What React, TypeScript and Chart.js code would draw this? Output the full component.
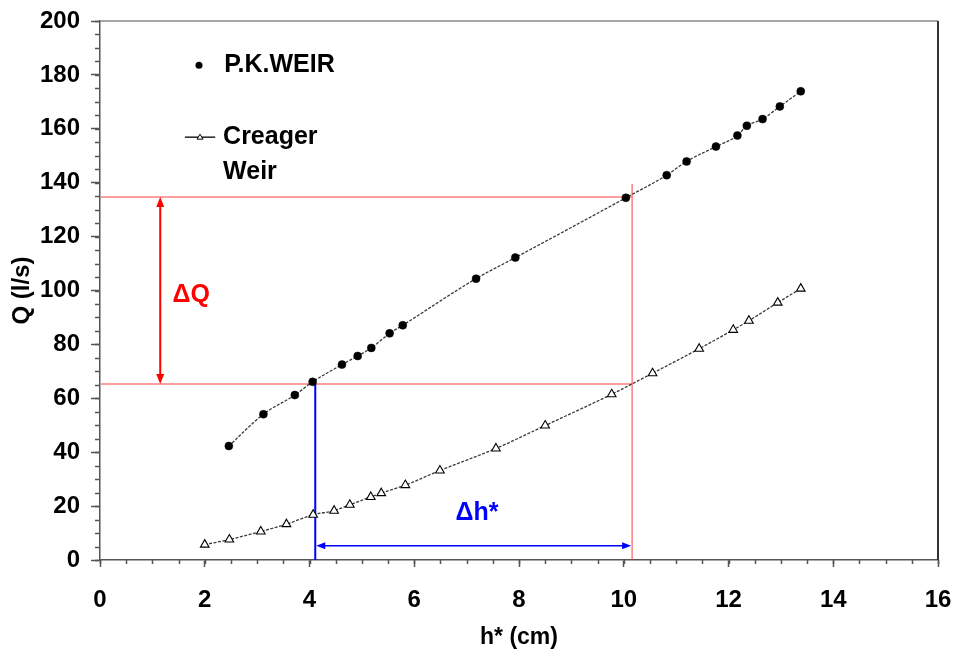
import React, { useEffect, useRef } from 'react';
import { Chart, registerables } from 'chart.js';

Chart.register(...registerables);

// P.K. Weir series (h* in cm, Q in l/s)
const pkH = [2.46, 3.12, 3.72, 4.06, 4.62, 4.92, 5.18, 5.53, 5.78, 7.18, 7.93, 10.04, 10.82, 11.2, 11.76, 12.17, 12.35, 12.65, 12.98, 13.38];
const pkQ = [42.3, 54.1, 61.2, 66.1, 72.5, 75.7, 78.7, 84.1, 87.1, 104.4, 112.2, 134.4, 142.8, 147.9, 153.4, 157.5, 161.1, 163.6, 168.3, 173.9];

// Creager Weir series
const crH = [2.0, 2.47, 3.07, 3.56, 4.07, 4.47, 4.77, 5.17, 5.37, 5.83, 6.49, 7.56, 8.5, 9.77, 10.55, 11.44, 12.09, 12.39, 12.94, 13.38];
const crQ = [5.7, 7.6, 10.6, 13.3, 16.8, 18.3, 20.5, 23.4, 24.8, 27.8, 33.2, 41.4, 49.9, 61.5, 69.3, 78.4, 85.4, 88.8, 95.5, 100.7];

// Axis ranges / ticks
const X_RANGE = [0, 16];
const X_STEP = 2;
const X_MINOR = 0.5;
const Y_RANGE = [0, 200];
const Y_STEP = 20;
const Y_MINOR = 5;

// Annotation values (data units)
const Q_LOW = 65.3;
const Q_HIGH = 134.7;
const H_LOW = 4.11;
const H_HIGH = 10.16;
const RED_VERT_TOP = 139.5;
const DQ_ARROW_X = 1.15;
const DH_ARROW_Y = 5.3;
const DQ_LABEL = { x: 1.74, y: 98.3, text: 'ΔQ' };
const DH_LABEL = { x: 7.2, y: 17.5, text: 'Δh*' };

// Legend anchors (data units)
const LEGEND_PK = { markX: 1.89, textX: 2.37, y: 183.6, text: 'P.K.WEIR' };
const LEGEND_CR = { lineX0: 1.62, lineX1: 2.2, textX: 2.35, y: 156.9, y2: 143.9, text1: 'Creager', text2: 'Weir' };

const FONT = '"Liberation Sans", Arial, Helvetica, sans-serif';

function arrowHead(ctx: CanvasRenderingContext2D, x: number, y: number, dx: number, dy: number, len: number, half: number) {
  const bx = x - dx * len;
  const by = y - dy * len;
  ctx.beginPath();
  ctx.moveTo(x, y);
  ctx.lineTo(bx - dy * half, by + dx * half);
  ctx.lineTo(bx + dy * half, by - dx * half);
  ctx.closePath();
  ctx.fill();
}

export default function App() {
  const ref = useRef<HTMLCanvasElement>(null);

  useEffect(() => {
    document.body.style.margin = '0';
    const canvas = ref.current;
    if (!canvas) return;

    const overlay = {
      id: 'overlay',
      beforeDatasetsDraw(chart: any) {
        const { ctx, chartArea } = chart;
        const xs = chart.scales.x;
        const ys = chart.scales.y;
        const px = (v: number) => xs.getPixelForValue(v);
        const py = (v: number) => ys.getPixelForValue(v);
        ctx.save();
        // box top and right
        ctx.lineWidth = 1.5;
        ctx.strokeStyle = '#8a8a8a';
        ctx.beginPath();
        ctx.moveTo(chartArea.left, chartArea.top);
        ctx.lineTo(chartArea.right, chartArea.top);
        ctx.stroke();
        ctx.strokeStyle = '#333';
        ctx.lineWidth = 2;
        ctx.beginPath();
        ctx.moveTo(chartArea.right, chartArea.top);
        ctx.lineTo(chartArea.right, chartArea.bottom);
        ctx.stroke();

        // thin red guide lines
        ctx.strokeStyle = 'rgba(255,40,40,0.6)';
        ctx.lineWidth = 1.5;
        ctx.beginPath();
        ctx.moveTo(px(X_RANGE[0]) + 1, py(Q_HIGH));
        ctx.lineTo(px(H_HIGH), py(Q_HIGH));
        ctx.moveTo(px(X_RANGE[0]) + 1, py(Q_LOW));
        ctx.lineTo(px(H_HIGH), py(Q_LOW));
        ctx.moveTo(px(H_HIGH), py(RED_VERT_TOP));
        ctx.lineTo(px(H_HIGH), py(Y_RANGE[0]));
        ctx.stroke();

        // blue vertical
        ctx.strokeStyle = '#0000ff';
        ctx.lineWidth = 2;
        ctx.beginPath();
        ctx.moveTo(px(H_LOW), py(Q_LOW));
        ctx.lineTo(px(H_LOW), py(Y_RANGE[0]));
        ctx.stroke();

        // blue double arrow
        ctx.lineWidth = 1.5;
        const ax0 = px(H_LOW) + 1;
        const ax1 = px(H_HIGH) - 1;
        const ay = py(DH_ARROW_Y);
        ctx.beginPath();
        ctx.moveTo(ax0 + 6, ay);
        ctx.lineTo(ax1 - 6, ay);
        ctx.stroke();
        ctx.fillStyle = '#0000ff';
        arrowHead(ctx, ax0, ay, -1, 0, 9, 3.5);
        arrowHead(ctx, ax1, ay, 1, 0, 9, 3.5);

        // red double arrow
        ctx.strokeStyle = '#ff0000';
        ctx.fillStyle = '#ff0000';
        ctx.lineWidth = 2;
        const rx = px(DQ_ARROW_X);
        const ry0 = py(Q_HIGH);
        const ry1 = py(Q_LOW);
        ctx.beginPath();
        ctx.moveTo(rx, ry0 + 6);
        ctx.lineTo(rx, ry1 - 6);
        ctx.stroke();
        arrowHead(ctx, rx, ry0, 0, -1, 10, 4);
        arrowHead(ctx, rx, ry1, 0, 1, 10, 4);

        // labels
        ctx.textBaseline = 'middle';
        ctx.textAlign = 'center';
        ctx.font = `bold 25px ${FONT}`;
        ctx.fillStyle = '#ff0000';
        ctx.fillText(DQ_LABEL.text, px(DQ_LABEL.x), py(DQ_LABEL.y));
        ctx.fillStyle = '#0000ff';
        ctx.fillText(DH_LABEL.text, px(DH_LABEL.x), py(DH_LABEL.y));
        ctx.restore();
      },
      afterDraw(chart: any) {
        const { ctx, chartArea } = chart;
        const xs = chart.scales.x;
        const ys = chart.scales.y;
        const px = (v: number) => xs.getPixelForValue(v);
        const py = (v: number) => ys.getPixelForValue(v);
        ctx.save();
        // minor ticks
        ctx.strokeStyle = '#555';
        ctx.lineWidth = 1.5;
        ctx.beginPath();
        for (let v = X_RANGE[0]; v <= X_RANGE[1] + 1e-9; v += X_MINOR) {
          const x = Math.round(px(v)) + 0.5;
          ctx.moveTo(x, chartArea.bottom);
          ctx.lineTo(x, chartArea.bottom + 4);
        }
        for (let v = Y_RANGE[0]; v <= Y_RANGE[1] + 1e-9; v += Y_MINOR) {
          const y = Math.round(py(v)) + 0.5;
          ctx.moveTo(chartArea.left, y);
          ctx.lineTo(chartArea.left - 5, y);
        }
        ctx.stroke();

        // legend
        ctx.fillStyle = '#000';
        ctx.textBaseline = 'middle';
        ctx.textAlign = 'left';
        ctx.font = `bold 25px ${FONT}`;
        ctx.beginPath();
        ctx.arc(px(LEGEND_PK.markX), py(LEGEND_PK.y), 3.5, 0, Math.PI * 2);
        ctx.fill();
        ctx.fillText(LEGEND_PK.text, px(LEGEND_PK.textX), py(LEGEND_PK.y));

        ctx.strokeStyle = '#000';
        ctx.lineWidth = 1.3;
        ctx.beginPath();
        ctx.moveTo(px(LEGEND_CR.lineX0), py(LEGEND_CR.y));
        ctx.lineTo(px(LEGEND_CR.lineX1), py(LEGEND_CR.y));
        ctx.stroke();
        const tx = (px(LEGEND_CR.lineX0) + px(LEGEND_CR.lineX1)) / 2;
        const ty = py(LEGEND_CR.y);
        ctx.fillStyle = '#fff';
        ctx.beginPath();
        ctx.moveTo(tx, ty - 3);
        ctx.lineTo(tx + 3, ty + 2);
        ctx.lineTo(tx - 3, ty + 2);
        ctx.closePath();
        ctx.fill();
        ctx.lineWidth = 1;
        ctx.stroke();
        ctx.fillStyle = '#000';
        ctx.fillText(LEGEND_CR.text1, px(LEGEND_CR.textX), py(LEGEND_CR.y));
        ctx.fillText(LEGEND_CR.text2, px(LEGEND_CR.textX), py(LEGEND_CR.y2));
        ctx.restore();
      },
    };

    const tickFont = { family: FONT, size: 24, weight: 'bold' as const };
    const chart = new Chart(canvas, {
      type: 'scatter',
      data: {
        datasets: [
          {
            label: 'P.K.WEIR',
            data: pkH.map((h, i) => ({ x: h, y: pkQ[i] })),
            showLine: true,
            borderColor: '#3a3a3a',
            borderWidth: 1.3,
            borderDash: [3, 1.5],
            cubicInterpolationMode: 'monotone',
            pointStyle: 'circle',
            pointRadius: 4,
            pointBackgroundColor: '#000',
            pointBorderColor: '#000',
            pointBorderWidth: 0.5,
          },
          {
            label: 'Creager Weir',
            data: crH.map((h, i) => ({ x: h, y: crQ[i] })),
            showLine: true,
            borderColor: '#3a3a3a',
            borderWidth: 1.3,
            borderDash: [3, 1.5],
            cubicInterpolationMode: 'monotone',
            pointStyle: 'triangle',
            pointRadius: 5,
            pointBackgroundColor: '#fff',
            pointBorderColor: '#000',
            pointBorderWidth: 1.1,
          },
        ],
      },
      options: {
        responsive: false,
        animation: false,
        layout: { padding: { top: 21, right: 17, left: 0, bottom: 0 } },
        plugins: { legend: { display: false }, tooltip: { enabled: false } },
        scales: {
          x: {
            type: 'linear',
            min: X_RANGE[0],
            max: X_RANGE[1],
            afterFit: (s: any) => { s.height = 91; s.paddingLeft = 0; s.paddingRight = 0; },
            ticks: { stepSize: X_STEP, color: '#000', font: tickFont, padding: 19, maxRotation: 0 },
            grid: { drawOnChartArea: false, drawTicks: true, tickLength: 7, tickColor: '#555', tickWidth: 1.5 },
            border: { display: true, color: '#555', width: 1.5 },
            title: { display: true, text: 'h* (cm)', color: '#000', font: { family: FONT, size: 23, weight: 'bold' }, padding: { top: 0, bottom: 0 } },
          },
          y: {
            type: 'linear',
            min: Y_RANGE[0],
            max: Y_RANGE[1],
            afterFit: (s: any) => { s.width = 100; s.paddingTop = 0; s.paddingBottom = 0; },
            ticks: { stepSize: Y_STEP, color: '#000', font: tickFont, padding: 11 },
            grid: { drawOnChartArea: false, drawTicks: true, tickLength: 9, tickColor: '#555', tickWidth: 1.5 },
            border: { display: true, color: '#555', width: 1.5 },
            title: { display: true, text: 'Q (l/s)', color: '#000', font: { family: FONT, size: 24, weight: 'bold' }, padding: { top: 8, bottom: 0 } },
          },
        },
      },
      plugins: [overlay],
    });

    return () => chart.destroy();
  }, []);

  return (
    <div style={{ width: 955, height: 651, position: 'relative' }}>
      <canvas ref={ref} width={955} height={651} style={{ width: 955, height: 651, display: 'block' }} />
    </div>
  );
}
